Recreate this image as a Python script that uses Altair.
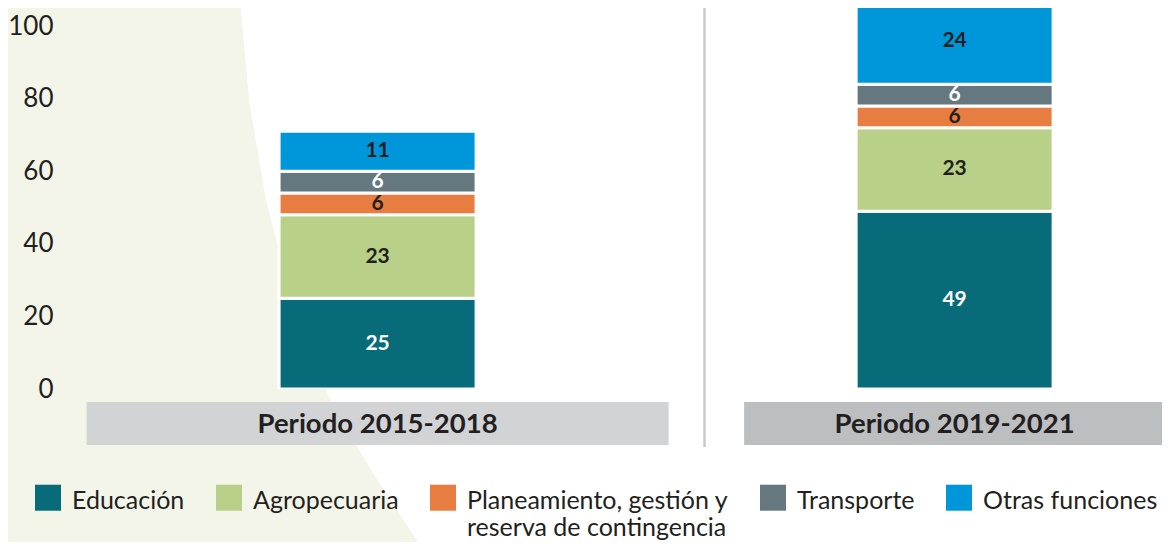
import altair as alt
import pandas as pd

periods = ["Periodo 2015-2018", "Periodo 2019-2021"]
categories = [
    "Educación",
    "Agropecuaria",
    "Planeamiento, gestión y reserva de contingencia",
    "Transporte",
    "Otras funciones",
]
values_2015_2018 = [25, 23, 6, 6, 11]
values_2019_2021 = [49, 23, 6, 6, 24]
colors = ["#076b7a", "#b9d089", "#e87d41", "#65777f", "#0096da"]
y_ticks = [0, 20, 40, 60, 80, 100]

# decorative curved backdrop on the left (edge of the shape, page pixels)
backdrop_y = [0, 100, 200, 300, 400, 470, 550]
backdrop_x = [240, 249, 266, 292, 330, 371, 423]

rows = []
for p, vals in zip(periods, [values_2015_2018, values_2019_2021]):
    for i, (c, v) in enumerate(zip(categories, vals)):
        rows.append({"periodo": p, "categoria": c, "valor": v, "orden": i})
df = pd.DataFrame(rows)
df_periods = pd.DataFrame({"periodo": periods})
df_backdrop = pd.DataFrame({"bx": backdrop_x, "by": backdrop_y})

FONT = "Lato"
INK = "#231f20"

x_scale = alt.Scale(domain=periods, paddingInner=0.6586, paddingOuter=0.2842, align=0.668)
y_scale = alt.Scale(domain=[0, 105], nice=False)
color_scale = alt.Scale(domain=categories, range=colors)

base = (
    alt.Chart(df)
    .transform_stack(
        stack="valor",
        groupby=["periodo"],
        as_=["y0", "y1"],
        sort=[alt.SortField("orden", order="ascending")],
    )
    .transform_calculate(mid="(datum.y0 + datum.y1) / 2")
)

# every legend label is given two lines so that all first lines sit on one row
label_expr = (
    "datum.label == 'Planeamiento, gestión y reserva de contingencia' ? "
    "['Planeamiento, gestión y', 'reserva de contingencia'] : [datum.label, '']"
)

bars = base.mark_bar(stroke="white", strokeWidth=3, clip=True).encode(
    x=alt.X("periodo:N", scale=x_scale, axis=None),
    y=alt.Y(
        "y0:Q",
        scale=y_scale,
        axis=alt.Axis(
            values=y_ticks,
            title=None,
            domain=False,
            ticks=False,
            grid=False,
            labelFont=FONT,
            labelFontSize=26,
            labelColor=INK,
            labelPadding=7,
            minExtent=52,
            maxExtent=52,
            zindex=1,
        ),
    ),
    y2="y1:Q",
    color=alt.Color(
        "categoria:N",
        scale=color_scale,
        legend=alt.Legend(
            title=None,
            orient="none",
            legendX=-25,
            legendY=468,
            direction="horizontal",
            symbolType="M-1,-0.33H1V1.67H-1Z",
            symbolSize=676,
            symbolStrokeWidth=0,
            symbolOpacity=1,
            labelFont=FONT,
            labelFontSize=25,
            labelColor=INK,
            labelBaseline="top",
            labelOffset=11,
            labelLimit=400,
            columnPadding=31,
            labelExpr=label_expr,
            padding=0,
        ),
    ),
)

seg_text = base.mark_text(font=FONT, fontWeight="bold", fontSize=21, baseline="middle").encode(
    x=alt.X("periodo:N", scale=x_scale, axis=None),
    y=alt.Y("mid:Q", scale=y_scale),
    text=alt.Text("valor:Q"),
    color=alt.condition(
        alt.FieldOneOfPredicate(field="categoria", oneOf=["Educación", "Transporte"]),
        alt.value("white"),
        alt.value(INK),
    ),
)

divider = alt.Chart(df_periods).mark_rule(color="#c8c9cb", strokeWidth=2).encode(
    x=alt.value(644.5), y=alt.value(-8), y2=alt.value(439)
)

box1 = (
    alt.Chart(df_periods)
    .transform_filter(alt.datum.periodo == periods[0])
    .mark_bar(size=582, color="#d1d3d4")
    .encode(x=alt.X("periodo:N", scale=x_scale, axis=None), y=alt.value(394), y2=alt.value(437))
)
box2 = (
    alt.Chart(df_periods)
    .transform_filter(alt.datum.periodo == periods[1])
    .mark_bar(size=421, color="#bcbec0")
    .encode(x=alt.X("periodo:N", scale=x_scale, axis=None), y=alt.value(394), y2=alt.value(437))
)

period_text = alt.Chart(df_periods).mark_text(
    font=FONT, fontWeight="bold", fontSize=27.5, color=INK, baseline="middle"
).encode(
    x=alt.X("periodo:N", scale=x_scale, axis=None),
    y=alt.value(416.5),
    text="periodo:N",
)

inner = alt.layer(divider, box1, box2, bars, seg_text, period_text)

backdrop = alt.Chart(df_backdrop).mark_area(orient="horizontal", color="#f3f5e9").encode(
    y=alt.Y("by:Q", scale=alt.Scale(domain=[8, 389], reverse=True, nice=False, zero=False), axis=None),
    x=alt.X("bx:Q", scale=alt.Scale(domain=[60, 1162], nice=False, zero=False), axis=None),
    x2=alt.datum(0),
)

chart = (
    alt.layer(backdrop, inner)
    .resolve_scale(x="independent", y="independent")
    .properties(
        width=1102,
        height=381,
        padding={"left": 52, "top": 0, "right": 0, "bottom": 153},
        autosize=alt.AutoSizeParams(type="none"),
        background="white",
    )
    .configure_view(stroke=None)
)

chart.save("out.html", embed_options={"renderer": "svg", "actions": False})
